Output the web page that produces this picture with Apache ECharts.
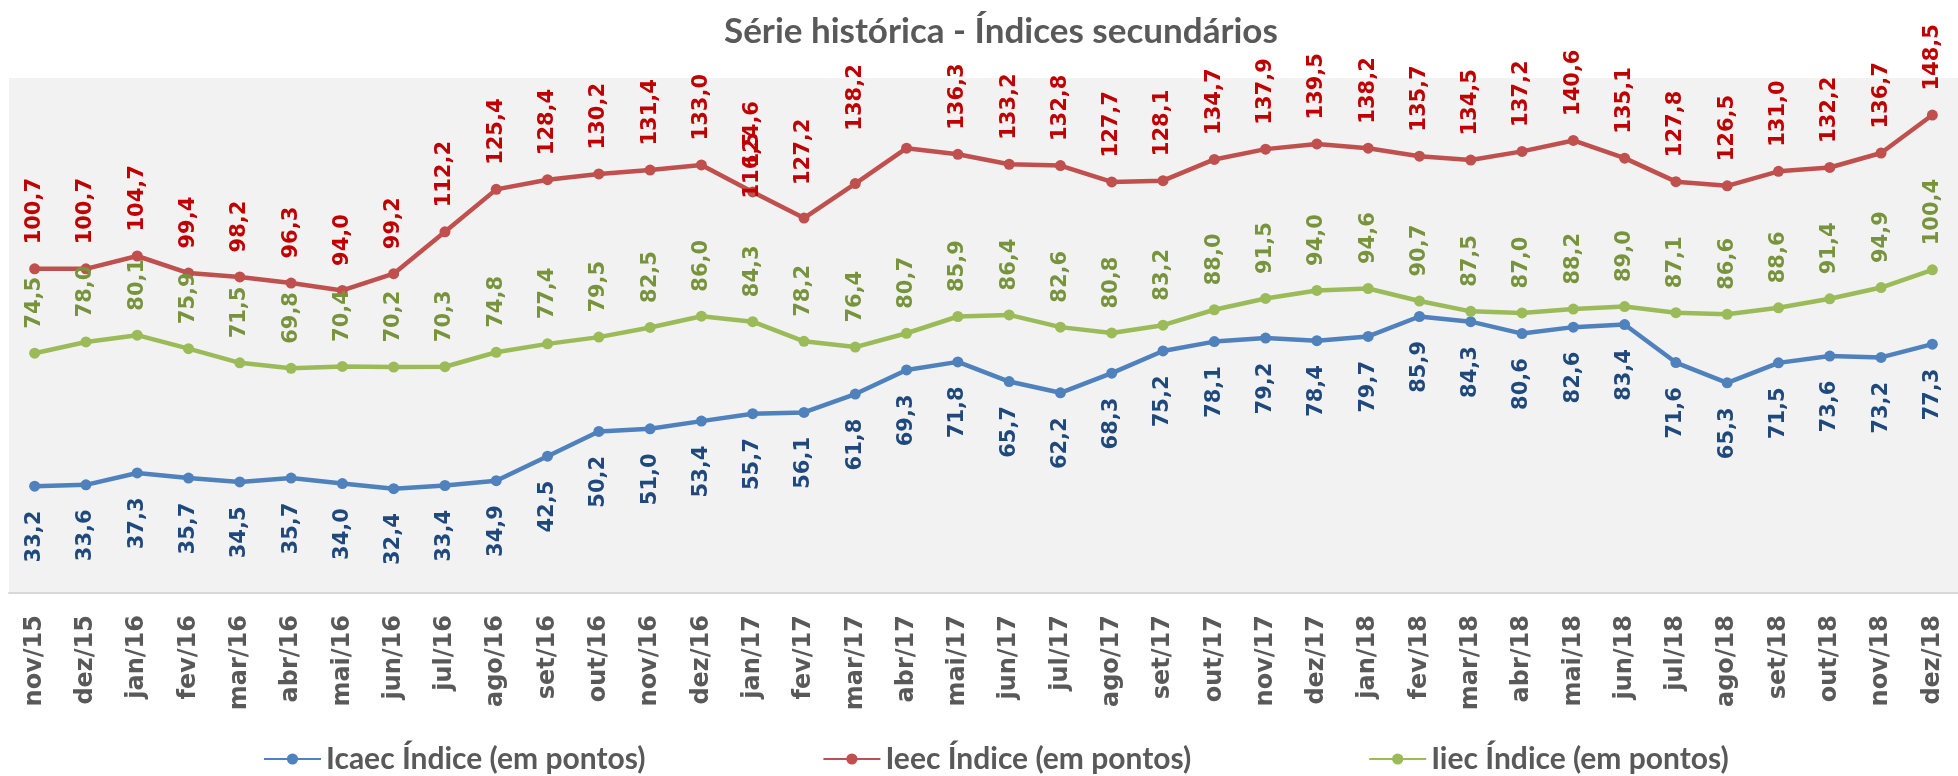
<!DOCTYPE html>
<html>
<head>
<meta charset="utf-8">
<script src="https://cdn.jsdelivr.net/npm/echarts@6/dist/echarts.min.js"></script>
<style>
  html, body { margin: 0; padding: 0; background: #fff; }
</style>
</head>
<body>
<div id="chart" style="width:1958px; height:776px;"></div>
<script>
const months = ['nov/15', 'dez/15', 'jan/16', 'fev/16', 'mar/16', 'abr/16', 'mai/16', 'jun/16', 'jul/16', 'ago/16',
  'set/16', 'out/16', 'nov/16', 'dez/16', 'jan/17', 'fev/17', 'mar/17', 'abr/17', 'mai/17', 'jun/17',
  'jul/17', 'ago/17', 'set/17', 'out/17', 'nov/17', 'dez/17', 'jan/18', 'fev/18', 'mar/18', 'abr/18',
  'mai/18', 'jun/18', 'jul/18', 'ago/18', 'set/18', 'out/18', 'nov/18', 'dez/18']

const icaec = [33.2, 33.6, 37.3, 35.7, 34.5, 35.7, 34.0, 32.4, 33.4, 34.9,
  42.5, 50.2, 51.0, 53.4, 55.7, 56.1, 61.8, 69.3, 71.8, 65.7,
  62.2, 68.3, 75.2, 78.1, 79.2, 78.4, 79.7, 85.9, 84.3, 80.6,
  82.6, 83.4, 71.6, 65.3, 71.5, 73.6, 73.2, 77.3]

const ieec = [100.7, 100.7, 104.7, 99.4, 98.2, 96.3, 94.0, 99.2, 112.2, 125.4,
  128.4, 130.2, 131.4, 133.0, 124.6, 116.5, 127.2, 138.2, 136.3, 133.2,
  132.8, 127.7, 128.1, 134.7, 137.9, 139.5, 138.2, 135.7, 134.5, 137.2,
  140.6, 135.1, 127.8, 126.5, 131.0, 132.2, 136.7, 148.5]

const iiec = [74.5, 78.0, 80.1, 75.9, 71.5, 69.8, 70.4, 70.2, 70.3, 74.8,
  77.4, 79.5, 82.5, 86.0, 84.3, 78.2, 76.4, 80.7, 85.9, 86.4,
  82.6, 80.8, 83.2, 88.0, 91.5, 94.0, 94.6, 90.7, 87.5, 87.0,
  88.2, 89.0, 87.1, 86.6, 88.6, 91.4, 94.9, 100.4]

// no original os rótulos de fev/17, mar/17 e abr/17 do Ieec ficaram deslocados uma coluna à esquerda
// (offset é no sistema do texto girado: [-desceY, -esquerdaX])
const ieecLabelShift = { 15: [-5, -51.5], 16: [-26, -51.5], 17: [-7, -51.5] }

const fmt = (p) => p.value.toFixed(1).replace('.', ',')
const labelFont = 'DejaVu Sans'

function lineSeries(name, values, color, labelColor, below, shifts) {
  return {
    name: name,
    type: 'line',
    data: values.map((v, i) => shifts && shifts[i]
      ? { value: v, label: { offset: shifts[i] } }
      : v),
    symbol: 'circle',
    symbolSize: 11,
    lineStyle: { color: color, width: 4.5 },
    itemStyle: { color: color },
    emphasis: { disabled: true },
    label: {
      show: true,
      position: below ? 'bottom' : 'top',
      distance: 19,
      rotate: 90,
      align: below ? 'right' : 'left',
      verticalAlign: 'middle',
      color: labelColor,
      fontFamily: labelFont,
      fontWeight: 'bold',
      fontSize: 21,
      formatter: fmt
    }
  }
}

const chart = echarts.init(document.getElementById('chart'), null, { renderer: 'canvas' })

chart.setOption({
  animation: false,
  title: {
    text: 'Série histórica - Índices secundários',
    left: 719,
    top: 9,
    textStyle: { fontFamily: 'Lato', fontWeight: 'bold', fontSize: 35, color: '#595959' }
  },
  legend: {
    left: 258,
    top: 739,
    itemWidth: 57,
    itemHeight: 14,
    itemGap: 177,
    textStyle: { fontFamily: 'Lato', fontWeight: 'bold', fontSize: 30, color: '#595959' },
    data: ['Icaec Índice (em pontos)', 'Ieec Índice (em pontos)', 'Iiec Índice (em pontos)']
  },
  grid: {
    left: 9,
    right: -8,
    top: 78,
    bottom: 183,
    show: true,
    backgroundColor: '#f2f2f2',
    borderWidth: 0
  },
  xAxis: {
    type: 'category',
    data: months,
    boundaryGap: true,
    axisLine: { lineStyle: { color: '#d9d9d9', width: 2 } },
    axisTick: { show: false },
    axisLabel: {
      rotate: 90,
      interval: 0,
      margin: 22,
      color: '#595959',
      fontFamily: labelFont,
      fontWeight: 'bold',
      fontSize: 24
    }
  },
  yAxis: {
    type: 'value',
    min: 0,
    max: 160,
    show: false,
    splitLine: { show: false }
  },
  series: [
    lineSeries('Icaec Índice (em pontos)', icaec, '#4f81bd', '#1f497d', true),
    lineSeries('Ieec Índice (em pontos)', ieec, '#c0504d', '#c00000', false, ieecLabelShift),
    lineSeries('Iiec Índice (em pontos)', iiec, '#9bbb59', '#77933c', false)
  ]
})
</script>
</body>
</html>
